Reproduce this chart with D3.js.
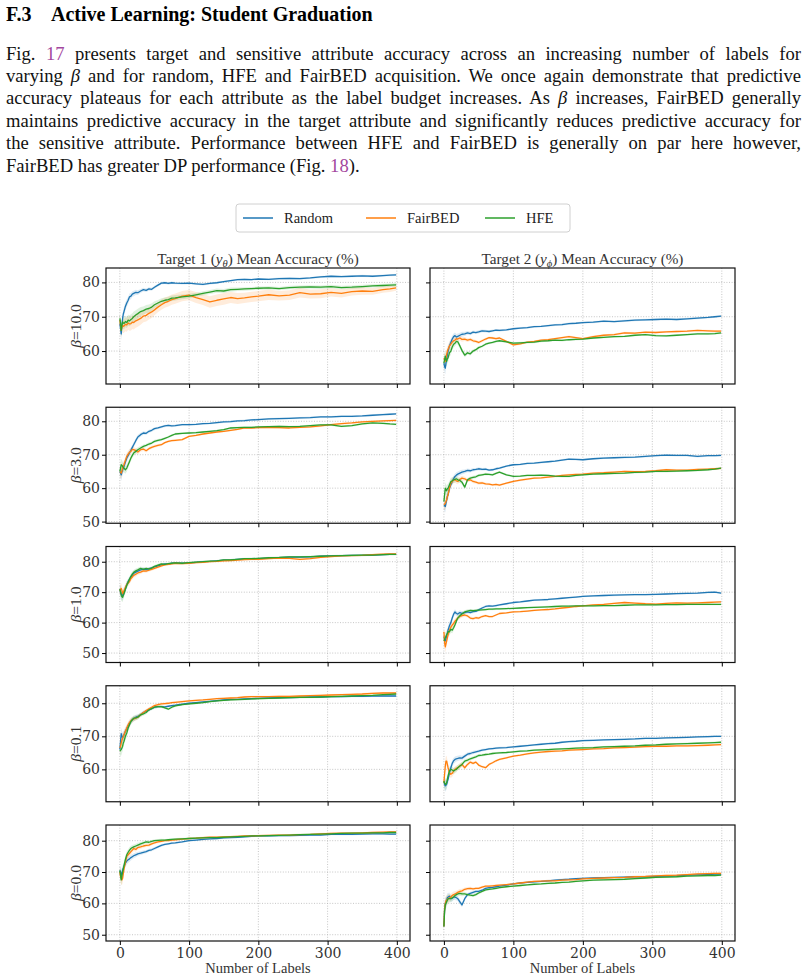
<!DOCTYPE html>
<html>
<head>
<meta charset="utf-8">
<script src="https://cdn.jsdelivr.net/npm/d3@7"></script>
<style>
  body { margin: 0; background: #fff; }
  svg { display: block; }
</style>
</head>
<body>
<div id="chart"></div>
<script>
// ---- data ----
const labels = [0,1,2,3,4,5,6, 8,10,12,14,16,18,20, 23,26,30,34,38,42,46,50, 55,60,65,70,75,80,
  90,100,110,120,130,140,150,160,170,180,190,200, 215,230,245,260,275,290,305,320,335,350,365,380,390,399];
const methods = ["Random", "FairBED", "HFE"];
const betas = ["10.0", "3.0", "1.0", "0.1", "0.0"];
const xTicks = [0, 100, 200, 300, 400];
const yTicks = [[60,70,80],[50,60,70,80],[50,60,70,80],[60,70,80],[50,60,70,80]];
const yDomains = [[50.4,84.2],[49.5,84.2],[46.9,85.0],[50.2,85.3],[48.0,85.0]];

// beta = 10.0
const b10_t1_random  = [68,66.5,65,67.5,69.5,70.8,71.5, 73,74,74.8,75.8,76,76.6,76.8, 77.1,77,77.5,77.9,77.7,78.1,78,78.6, 79.2,79.8,79.9,79.7,79.9,79.8,
  79.7,79.8,79.6,79.4,79.7,79.9,80.2,80.5,80.8,80.9,80.8,81, 80.9,81.1,81.2,81.1,81.3,81.6,81.8,81.7,81.8,81.9,81.8,82,82.1,82.2];
const b10_t1_fairbed = [69,67.5,66,67,67.5,67.2,67.3, 67.8,67.6,68.2,67.9,68,68.4,68.3, 68.8,69.1,69.5,70.2,70.4,71,71.4,72, 72.8,73.5,74.1,74.5,75,75.3,
  76,76.3,75.6,75,74.3,74.8,75.2,75.6,75.3,75.5,75.8,76, 76.4,76.1,76.3,77,76.6,76.7,77.1,76.8,77.3,77.5,77.4,77.9,78.1,78.4];
const b10_t1_hfe     = [69.5,68,66,67.5,68.5,68.2,68, 68.6,68.3,69,68.8,69.2,69.5,70, 70.5,70.9,71.5,71.8,72.2,72.4,72.8,73.5, 74,74.5,74.8,75,75.4,75.5,
  75.8,76,76.4,76.8,77.2,77.6,77.5,77.9,78,78.1,78.2,78.3, 78.4,78.2,78.5,78.6,78.7,78.6,78.8,78.5,78.6,78.8,79,79.1,79.2,79.3];
const b10_t2_random  = [56.5,55.5,55,56.5,57.5,59,60, 61.5,62.5,63.5,64.2,64.5,64.1,64.3, 64.6,64.9,65,65.3,65.1,65.5,65.4,65.6, 65.9,65.8,65.7,65.9,66.1,66,
  66.2,66.5,66.7,66.8,67.1,67.2,67.4,67.6,67.7,68,68.1,68.3, 68.4,68.7,68.6,68.8,69,69.1,69.2,69.3,69.2,69.4,69.6,69.8,70,70.2];
const b10_t2_fairbed = [58,57.5,57,58,59,60,60.5, 61.5,62,62.6,63,63.2,63.6,63.5, 63.8,63.4,63.5,63.2,63.4,63,62.8,62.5, 63,63.5,63.9,63.8,63.6,63.8,
  62.8,61.8,62.1,62.6,62.8,63.2,63.3,63.6,63.9,64.2,63.9,63.6, 64.2,64.6,64.8,65.3,65.2,65.5,65.4,65.6,65.7,65.8,66,65.9,65.8,65.8];
const b10_t2_hfe     = [56.5,57.5,58.5,57.5,57,57.8,58, 59.5,60,61.2,62,62.3,62.8,62.7, 61.5,60.2,58.8,59.5,59.2,60,60.4,61, 61.4,62,62.3,62.5,62.8,63,
  62.7,62.3,62.4,62.5,62.6,62.9,63,63.2,63.1,63.3,63.4,63.5, 63.8,64,64.2,64.3,64.6,64.8,64.5,64.4,64.6,64.8,65,65,65.1,65.3];
// beta = 3.0
const b3_t1_random   = [65,64.5,64,64.8,65.5,66,66.5, 67.8,69,69.8,70.6,71.3,72.2,73, 74.2,75.3,76,76.5,76.4,77,77.3,77.8, 78,78.3,78.6,78.8,78.6,78.7,
  79,79,79.1,79.3,79.4,79.6,79.8,79.9,80.1,80.2,80.4,80.5, 80.7,80.8,80.9,81,81.1,81.3,81.3,81.5,81.5,81.6,81.8,82,82.1,82.2];
const b3_t1_fairbed  = [65,64.8,64.5,65.2,66,66.5,67, 68.3,69.5,70.2,70.8,71,71.6,71.5, 71.2,70.8,71.5,71.7,71.2,71.8,72.2,72.5, 72.8,73,73.6,74,74.2,74.3,
  74.5,75.5,75.8,76.2,76.5,76.8,77,77.3,77.6,78,78,78.1, 78.2,78.1,78,78.2,78.3,78.6,79,79.3,79.5,79.8,80,80.1,80.2,80.3];
const b3_t1_hfe      = [65,66,67,66.8,66.5,66.2,66, 65.5,66,67,68,69,69.8,70.5, 71,71.5,72,72.5,72.8,73.2,73.5,74, 74.3,74.5,74.9,75.3,75.8,76.2,
  76.4,76.5,76.6,76.8,77,77.2,77.5,78,78.1,78.2,78.2,78.3, 78.4,78.5,78.4,78.5,78.7,78.9,78.9,78.5,78.7,79.2,79.5,79.4,79.2,79.1];
const b3_t2_random   = [55,54.8,54.5,55.5,56.5,57.5,58, 60,61,62,62.8,63.5,63.9,64.2, 64.5,64.8,65,65.3,65.2,65.5,65.6,65.8, 65.6,65.7,65.4,65.5,65.8,66,
  66.6,67,67.1,67.4,67.5,67.7,67.9,68.1,68.4,68.7,68.6,68.5, 68.8,69,69.1,69.2,69.3,69.5,69.7,69.9,69.8,69.8,69.5,69.7,69.7,69.8];
const b3_t2_fairbed  = [55,55.2,55.5,56,56.5,57.5,58, 60,61.5,62,62.5,62.5,62.2,62, 62.6,63,62.8,62.3,62.5,62,61.8,61.5, 61.6,61.3,61.2,61,61.1,60.9,
  61.5,62,62.4,62.7,63,63.1,63.3,63.5,63.8,64,64.1,64.2, 64.5,64.6,64.8,65,64.9,65,65.2,65.5,65.4,65.4,65.6,65.7,65.8,65.9];
const b3_t2_hfe      = [56,58,60,59.5,59.2,59.8,60, 61,62,62.2,62.5,62.6,62.8,62.5, 62.3,61.8,60.3,62.5,63,63.2,63.4,63.8, 64,64.2,64.1,64,64.4,64.8,
  64,63.5,63.6,63.8,63.8,63.9,63.8,63.6,63.5,63.5,63.8,64, 64.2,64.3,64.4,64.5,64.7,64.8,65,65,65.1,65.2,65.3,65.5,65.7,66];
// beta = 1.0
const b1_t1_random   = [71,70.2,69.5,69,68.8,69.5,70, 71,72.5,73.4,74.2,75,75.6,76.2, 76.6,76.9,77.3,77.6,77.4,77.7,78,78.3, 78.6,79,79.3,79.2,79.5,79.6,
  79.5,79.6,79.8,80,80.1,80.3,80.5,80.6,80.8,80.9,81,81, 81.2,81.3,81.5,81.5,81.6,81.8,81.9,82,82.1,82.1,82.2,82.3,82.4,82.4];
const b1_t1_fairbed  = [70.5,71,71.2,70.5,69.5,70,70.5, 71.5,72.5,73,73.5,74.5,75,75.5, 75.9,76.3,76.6,77,76.9,77.2,77.5,77.8, 78.2,78.6,79,79.1,79.3,79.5,
  79.4,79.5,79.7,79.8,80,80.1,80.3,80.4,80.5,80.7,80.8,80.8, 81,81.2,81.1,80.8,81,81.4,81.7,81.9,82,82.1,82.3,82.5,82.6,82.6];
const b1_t1_hfe      = [71,70,69,68.5,68.3,69,69.5, 71,72.3,73.3,74.3,75.2,75.9,76.5, 77,77.3,77.8,77.5,77.8,77.6,77.9,78.5, 78.9,79.3,79.1,79.4,79.5,79.6,
  79.5,79.7,79.9,80,80.2,80.3,80.6,80.6,80.8,81,81,81.1, 81.3,81.4,81.6,81.6,81.7,81.8,81.9,82,82.1,82.2,82.2,82.3,82.4,82.4];
const b1_t2_random   = [55.5,54.5,54,54.8,55.5,56.5,57.5, 59,60,61.5,62.8,63.5,63,62.8, 63.3,63,63.3,63.5,63.3,63.6,63.7,64.2, 64.8,65.3,65.5,65.4,65.6,65.8,
  66.2,66.6,66.8,67.1,67.4,67.5,67.6,67.8,68,68.2,68.4,68.6, 68.8,68.9,69,69.1,69.2,69.2,69.3,69.4,69.5,69.6,69.7,69.9,70,69.7];
const b1_t2_fairbed  = [57,53.5,52,53,54,55,56, 57.5,58.5,59.2,59.7,60.5,61,61.5, 62,62.3,62.5,62.2,61.5,61.3,61.6,61.5, 62,62.3,62,62,62.5,63,
  63.2,63.5,63.6,63.8,64,64.2,64.3,64.5,64.8,65,65.3,65.5, 65.8,66,66.3,66.6,66.4,66.2,66.1,66.3,66.5,66.4,66.5,66.6,66.7,66.8];
const b1_t2_hfe      = [54,54.5,55,55.5,56,56.5,57, 57,57.8,57.5,58.3,59.3,60.5,61.5, 62.3,62.8,63.5,63.8,64,63.9,64,64.1, 64.2,64.3,64.4,64.4,64.5,64.5,
  64.6,64.7,64.8,64.9,65,65.1,65.2,65.3,65.4,65.4,65.5,65.5, 65.5,65.6,65.6,65.7,65.8,65.8,65.8,65.9,65.9,66,66,66,66,66];
// beta = 0.1
const b01_t1_random  = [66,68.5,70.8,70,69.5,70,70.5, 71.5,72.3,73.2,74,74.5,75,75.3, 75.8,76,76.5,77.2,77.6,78,78.4,78.8, 79,79,78.9,79.1,79.3,79.4,
  79.7,80,80.2,80.4,80.6,80.8,81,81.2,81.2,81.3,81.4,81.5, 81.6,81.7,81.7,81.8,81.9,81.9,82,82,82.1,82.1,82.2,82.2,82.2,82.2];
const b01_t1_fairbed = [66.5,67,68,68.8,69.5,70,70.5, 71.5,72.5,73.5,74.2,74.7,75,75.3, 75.5,75.8,76.5,77.2,77.8,78.3,78.8,79.3, 79.6,79.8,79.9,80,80.2,80.3,
  80.5,80.7,80.9,81,81.2,81.4,81.5,81.6,81.7,81.9,82,82, 82,82.1,82.1,82.2,82.3,82.4,82.5,82.6,82.7,82.8,83,83.1,83.1,83.1];
const b01_t1_hfe     = [65.5,65.8,66,66.5,67,68,68.5, 70,71,72.5,73.5,74.5,75,75.5, 75.6,75.8,76.5,76.8,77.2,78,78.4,78.8, 79,79,78.6,78.2,78.8,79.2,
  79.6,79.8,80,80.2,80.5,80.7,80.9,81,81.1,81.2,81.3,81.4, 81.5,81.6,81.7,81.8,81.8,81.9,82,82.1,82.2,82.3,82.4,82.6,82.7,82.8];
const b01_t2_random  = [56.3,55.5,55,55.2,55.5,56.3,57, 59,60.5,61.8,62.6,63,63.2,63.3, 63.5,63.4,64,64.6,64.8,65.1,65.3,65.5, 65.8,66,66.2,66.3,66.4,66.5,
  66.6,66.8,67,67.2,67.4,67.6,67.8,67.9,68.2,68.4,68.5,68.7, 68.8,68.9,69,69.1,69.2,69.4,69.4,69.5,69.6,69.7,69.8,69.9,70,70];
const b01_t2_fairbed = [56,58.5,61,62.5,62.5,61.5,60.5, 59,58.5,58.8,59.5,60,60.3,60.5, 61,61.5,60.5,61.5,62.2,61.8,62.2,61.3, 60.8,60.5,61.5,62,62.6,63,
  63.5,64,64.3,64.7,65,65.2,65.4,65.5,65.6,65.8,65.9,66, 66.2,66.3,66.5,66.6,66.7,66.9,67,67,67.1,67.1,67.2,67.3,67.4,67.5];
const b01_t2_hfe     = [56.5,55.8,55.5,55.5,56,57,58, 59.5,60,59.8,59.5,59.8,60,60.5, 61,61.5,62.5,62.8,63.2,63.5,63.8,64.2, 64.3,64.5,64.6,64.8,64.9,65,
  65.1,65.3,65.5,65.6,65.8,65.9,66,66.1,66.2,66.3,66.4,66.5, 66.6,66.8,66.9,67,67.1,67.3,67.4,67.6,67.7,67.8,67.9,68,68.1,68.2];
// beta = 0.0
const b0_t1_random   = [70.5,69.8,69,69.8,70.5,71.2,71.8, 72.8,73.5,73.9,74.2,74.6,74.9,75.2, 75.5,75.8,76,76.3,76.5,76.9,77.1,77.5, 78,78.5,78.8,79,79.2,79.3,
  79.6,80,80.2,80.4,80.6,80.7,80.9,81,81.1,81.2,81.4,81.5, 81.5,81.6,81.6,81.7,81.8,81.8,82,82,82,82.1,82.2,82.2,82.1,82.1];
const b0_t1_fairbed  = [70,68.5,67.8,67.5,68,69.5,71, 73,75,75.5,76,76.5,77,77.5, 77.2,77.8,78,78.3,78.5,78.6,79,79.3, 79.6,79.8,80,80,80.2,80.3,
  80.5,80.7,80.8,81,81.1,81.1,81.2,81.3,81.4,81.5,81.5,81.6, 81.7,81.8,81.8,81.9,82,82.2,82.3,82.4,82.4,82.5,82.6,82.7,82.8,82.8];
const b0_t1_hfe      = [70.5,69,67.5,68.8,70,71,72, 74,75.5,76.3,77,77.5,77.8,78, 78.3,78.6,79,79.3,79.6,79.5,79.8,80, 80.1,80.2,80.2,80.3,80.4,80.5,
  80.6,80.7,80.8,80.9,81,81,81.1,81.2,81.3,81.4,81.5,81.5, 81.6,81.7,81.8,81.9,82,82.1,82.2,82.3,82.4,82.4,82.5,82.5,82.6,82.6];
const b0_t2_random   = [52.6,58,60,60.5,61,61.8,62, 62.3,61.5,61.6,62,62,61.8,61.5, 60.5,59.5,61.5,62.8,63.2,63.5,63.8,63.8, 64.2,64.8,65,65.1,65.3,65.5,
  65.8,66.2,66.5,66.7,66.9,67,67.2,67.4,67.6,67.7,67.9,68, 68.1,68.2,68.3,68.4,68.5,68.5,68.6,68.7,68.8,69,69.1,69.2,69.3,69.3];
const b0_t2_fairbed  = [52.6,58.5,60,60.8,61,61.3,61.5, 61.8,62,62.5,62.8,63,63.2,63.5, 63.8,64,64.5,64.7,64.8,64.6,64.8,64.8, 65.2,65.5,65.5,65.6,65.7,65.8,
  66,66.2,66.5,66.8,67,67.1,67.2,67.2,67.4,67.5,67.6,67.8, 68,68.1,68.2,68.3,68.5,68.6,68.8,68.9,69,69.2,69.4,69.5,69.6,69.6];
const b0_t2_hfe      = [52.6,57.5,59.5,60,60.5,61,61.5, 61.5,61.5,61.8,62,62.5,62.8,63, 63.2,63,63,62.8,62.6,62.5,62.8,63.3, 63.8,64.3,64.5,64.6,64.8,65,
  65.3,65.5,65.7,65.9,66.1,66.2,66.4,66.5,66.7,66.8,67,67.2, 67.4,67.5,67.6,67.7,67.9,68.1,68.3,68.4,68.5,68.7,68.8,68.9,68.9,69];

// half width of the shaded bands
const sd_early = [1.5,1.7,1.8,1.6,1.5,1.4,1.3, 1.2,1.1,1.0,0.95,0.9,0.85,0.8, 0.75,0.7,0.6,0.55,0.5,0.5,0.45,0.45, 0.4,0.4,0.35,0.35,0.35,0.35,
  0.3,0.3,0.3,0.3,0.3,0.3,0.3,0.3,0.3,0.3,0.3,0.3, 0.3,0.3,0.3,0.3,0.3,0.3,0.3,0.3,0.3,0.3,0.3,0.3,0.3,0.3];
const sd_mid   = [1.5,1.7,1.8,1.8,1.8,1.8,1.7, 1.7,1.6,1.6,1.6,1.5,1.5,1.5, 1.4,1.4,1.3,1.2,1.2,1.2,1.1,1.0, 0.9,0.9,0.8,0.8,0.8,0.8,
  0.7,0.7,0.6,0.6,0.6,0.6,0.6,0.6,0.5,0.5,0.5,0.5, 0.5,0.5,0.5,0.5,0.5,0.5,0.5,0.5,0.5,0.5,0.5,0.5,0.5,0.5];
const sd_wide  = [1.5,1.7,1.8,2,2,2,2, 2,2,2,2,2,2,2, 2,2,1.8,1.8,1.8,1.8,1.8,1.6, 1.5,1.5,1.5,1.5,1.5,1.5,
  1.5,1.5,1.6,1.6,1.7,1.7,1.7,1.6,1.6,1.5,1.5,1.5, 1.5,1.4,1.4,1.4,1.3,1.3,1.2,1.2,1.1,1.1,1.0,0.9,0.9,0.8];

// table: rows = beta, cols = target, series = method
const panels = [
  [[b10_t1_random, b10_t1_fairbed, b10_t1_hfe], [b10_t2_random, b10_t2_fairbed, b10_t2_hfe]],
  [[b3_t1_random, b3_t1_fairbed, b3_t1_hfe], [b3_t2_random, b3_t2_fairbed, b3_t2_hfe]],
  [[b1_t1_random, b1_t1_fairbed, b1_t1_hfe], [b1_t2_random, b1_t2_fairbed, b1_t2_hfe]],
  [[b01_t1_random, b01_t1_fairbed, b01_t1_hfe], [b01_t2_random, b01_t2_fairbed, b01_t2_hfe]],
  [[b0_t1_random, b0_t1_fairbed, b0_t1_hfe], [b0_t2_random, b0_t2_fairbed, b0_t2_hfe]]
];
const spreads = [
  [[sd_early, sd_wide, sd_mid], [sd_early, sd_early, sd_early]],
  [[sd_early, sd_early, sd_early], [sd_early, sd_early, sd_early]],
  [[sd_early, sd_early, sd_early], [sd_early, sd_early, sd_early]],
  [[sd_early, sd_early, sd_early], [sd_early, sd_early, sd_early]],
  [[sd_early, sd_early, sd_early], [sd_early, sd_early, sd_early]]
];

// ---- layout ----
const width = 807, height = 980;
const colors = ["#1f77b4", "#ff7f0e", "#2ca02c"];
const cols = [[106, 410], [430, 735]];
const rowTop0 = 268, rowStep = 139.25, rowH = 116;
const serif = "'Liberation Serif', serif";
const numFont = "'DejaVu Serif', serif";
const linkColor = "#a3479e";

const svg = d3.select("#chart").append("svg")
  .attr("width", width).attr("height", height)
  .attr("viewBox", [0, 0, width, height]);

// ---- paper text above the figure ----
svg.append("text").attr("x", 6).attr("y", 21)
  .style("font", "bold 20px " + serif).text("F.3");
svg.append("text").attr("x", 51).attr("y", 21)
  .style("font", "bold 20px " + serif).text("Active Learning: Student Graduation");

// each line is a list of [text, style]
const paraLines = [
  [["Fig. ", ""], ["17", "link"], [" presents target and sensitive attribute accuracy across an increasing number of labels for", ""]],
  [["varying ", ""], ["β", "it"], [" and for random, HFE and FairBED acquisition. We once again demonstrate that predictive", ""]],
  [["accuracy plateaus for each attribute as the label budget increases. As ", ""], ["β", "it"], [" increases, FairBED generally", ""]],
  [["maintains predictive accuracy in the target attribute and significantly reduces predictive accuracy for", ""]],
  [["the sensitive attribute. Performance between HFE and FairBED is generally on par here however,", ""]],
  [["FairBED has greater DP performance (Fig. ", ""], ["18", "link"], [").", ""]]
];
paraLines.forEach((line, i) => {
  const t = svg.append("text")
    .attr("x", 6).attr("y", 59.5 + i * 22.4)
    .style("font", "18.6px " + serif).style("fill", "#111");
  line.forEach(([s, kind]) => {
    const ts = t.append("tspan").text(s);
    if (kind === "link") ts.style("fill", linkColor);
    if (kind === "it") ts.style("font-style", "italic");
  });
  // justify all but the last line
  if (i < paraLines.length - 1) {
    const natural = t.node().getComputedTextLength();
    const spaces = line.map(d => d[0]).join("").split(" ").length - 1;
    t.style("word-spacing", ((801 - 6 - natural) / spaces) + "px");
  }
});

// ---- legend ----
const legend = svg.append("g");
legend.append("rect")
  .attr("x", 236).attr("y", 204).attr("width", 334).attr("height", 28).attr("rx", 3)
  .attr("fill", "#fff").attr("stroke", "#d0d0d0").attr("stroke-width", 1);
const legendX = [243, 366, 485];
methods.forEach((m, i) => {
  legend.append("line")
    .attr("x1", legendX[i]).attr("x2", legendX[i] + 30)
    .attr("y1", 218).attr("y2", 218)
    .attr("stroke", colors[i]).attr("stroke-width", 1.5);
  legend.append("text")
    .attr("x", legendX[i] + 41).attr("y", 222.5)
    .style("font", "14.5px " + serif).style("fill", "#222")
    .text(m);
});

// ---- column titles ----
const titleSubs = ["θ", "ϕ"];
cols.forEach((c, j) => {
  const t = svg.append("text")
    .attr("x", (c[0] + c[1]) / 2).attr("y", 264)
    .attr("text-anchor", "middle")
    .style("font", "15.2px " + serif).style("fill", "#333");
  t.append("tspan").text(`Target ${j + 1} (`);
  t.append("tspan").style("font-style", "italic").text("y");
  t.append("tspan").attr("dy", 3).style("font-size", "10.5px").style("font-style", "italic").text(titleSubs[j]);
  t.append("tspan").attr("dy", -3).text(") Mean Accuracy (%)");
});

// ---- panels ----
const xDomain = [-20, 419];

betas.forEach((b, i) => {
  const top = rowTop0 + i * rowStep;
  const bottom = top + rowH;
  const y = d3.scaleLinear().domain(yDomains[i]).range([bottom, top]);

  // row label
  const lab = svg.append("text")
    .attr("transform", `translate(80.5,${(top + bottom) / 2}) rotate(-90)`)
    .attr("text-anchor", "middle")
    .style("font", "15.5px " + serif).style("fill", "#333");
  lab.append("tspan").style("font-style", "italic").text("β");
  lab.append("tspan").text("=" + b);

  cols.forEach((c, j) => {
    const x = d3.scaleLinear().domain(xDomain).range(c);
    const g = svg.append("g");

    // grid
    g.append("g").selectAll("line").data(xTicks).join("line")
      .attr("x1", d => x(d)).attr("x2", d => x(d))
      .attr("y1", top).attr("y2", bottom)
      .attr("stroke", "#b8b8b8").attr("stroke-width", 0.8).attr("stroke-dasharray", "1,1.6");
    g.append("g").selectAll("line").data(yTicks[i]).join("line")
      .attr("x1", c[0]).attr("x2", c[1])
      .attr("y1", d => y(d)).attr("y2", d => y(d))
      .attr("stroke", "#b8b8b8").attr("stroke-width", 0.8).attr("stroke-dasharray", "1,1.6");

    // bands then lines
    panels[i][j].forEach((vals, k) => {
      const sd = spreads[i][j][k];
      const area = d3.area()
        .x((d, n) => x(labels[n]))
        .y0((d, n) => y(d - sd[n]))
        .y1((d, n) => y(d + sd[n]));
      g.append("path").attr("d", area(vals))
        .attr("fill", colors[k]).attr("fill-opacity", 0.15);
    });
    panels[i][j].forEach((vals, k) => {
      const line = d3.line().x((d, n) => x(labels[n])).y(d => y(d));
      g.append("path").attr("d", line(vals))
        .attr("fill", "none").attr("stroke", colors[k])
        .attr("stroke-width", 1.3).attr("stroke-linejoin", "round");
    });

    // frame
    g.append("rect")
      .attr("x", c[0]).attr("y", top)
      .attr("width", c[1] - c[0]).attr("height", rowH)
      .attr("fill", "none").attr("stroke", "#111").attr("stroke-width", 1.2);

    // axes
    const ax = g.append("g").attr("transform", `translate(0,${bottom})`)
      .call(d3.axisBottom(x).tickValues(xTicks).tickSize(4).tickPadding(3)
        .tickFormat(i === betas.length - 1 ? d3.format("d") : ""));
    ax.select(".domain").remove();
    ax.selectAll("text").style("font", "14px " + numFont).style("fill", "#333");

    const ay = g.append("g").attr("transform", `translate(${c[0]},0)`)
      .call(d3.axisLeft(y).tickValues(yTicks[i]).tickSize(4).tickPadding(2)
        .tickFormat(j === 0 ? d3.format("d") : ""));
    ay.select(".domain").remove();
    ay.selectAll("text").style("font", "14px " + numFont).style("fill", "#333");

    if (i === betas.length - 1) {
      svg.append("text")
        .attr("x", (c[0] + c[1]) / 2).attr("y", 973)
        .attr("text-anchor", "middle")
        .style("font", "14.5px " + serif).style("fill", "#333")
        .text("Number of Labels");
    }
  });
});
</script>
</body>
</html>
